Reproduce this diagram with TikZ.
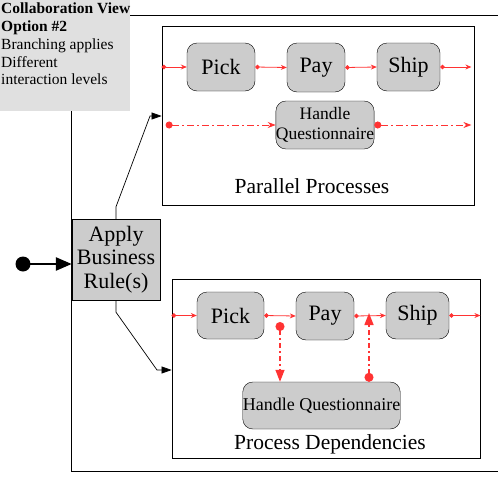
\documentclass[tikz,border=0pt]{standalone}
\usepackage{fontspec}
\setmainfont{Liberation Serif}
\usetikzlibrary{arrows.meta}
\definecolor{taskgray}{HTML}{CCCCCC}
\definecolor{notegray}{HTML}{E0E0E0}
\definecolor{flowred}{HTML}{FF3333}
\tikzset{
  task/.style={draw,fill=taskgray,rounded corners=10pt,inner sep=0pt,
    font=\fontsize{22}{24}\selectfont},
  rulebox/.style={draw,fill=taskgray,minimum width=88pt,minimum height=81pt,
    align=center,inner sep=0pt,font=\fontsize{22}{23.5}\selectfont},
  lane/.style={draw,line width=0.8pt,inner sep=0pt},
  lanetitle/.style={font=\fontsize{21.5}{23}\selectfont},
  flow/.style={flowred,line width=0.8pt,
    {Circle[length=4.5pt]}-{Stealth[length=6pt,width=5pt]}},
  sync/.style={flowred,line width=0.8pt,dash pattern=on 7pt off 3pt on 2pt off 3pt,
    {Circle[length=7pt]}-{Stealth[length=8pt,width=6pt]}},
  dep/.style={flowred,line width=1.4pt,dash pattern=on 5pt off 3pt on 2pt off 3pt,
    {Circle[length=9pt]}-{Triangle[length=12pt,width=9pt]}},
  branch/.style={line width=0.7pt,-{Triangle[length=10pt,width=7pt]}},
  entry/.style={line width=2.5pt,-{Triangle[length=16pt,width=13pt]}}
}
\begin{document}
\begin{tikzpicture}[x=1pt,y=-1pt]
  \useasboundingbox (0,0) rectangle (498,498);
  % outer frame
  \draw[line width=0.8pt] (71,20) -- (71,471) -- (498,471);
  \draw[line width=0.8pt] (100,15) -- (498,15);

  % note
  \node[fill=notegray,minimum width=130pt,minimum height=111pt,
    anchor=north west,inner sep=0pt] (memo) at (0,0) {};
  \node[anchor=north west,align=left,inner xsep=1pt,inner ysep=3pt,
    font=\fontsize{15.5}{17.7}\selectfont] (memotext) at (memo.north west)
    {\textbf{Collaboration View}\\\textbf{Option \#2}\\Branching applies\\
     Different\\interaction levels};

  % lanes
  \node[lane,minimum width=312pt,minimum height=179pt] (par) at (318,115.5) {};
  \node[lanetitle] (partitle) at (312,186) {Parallel Processes};
  \node[lane,minimum width=308pt,minimum height=179pt] (proc) at (326,368.5) {};
  \node[lanetitle] (proctitle) at (330,444) {Process Dependencies};

  % parallel tasks
  \node[task,minimum width=68pt,minimum height=48pt] (pickA) at (221,67) {Pick};
  \node[task,minimum width=58pt,minimum height=49pt] (payA) at (316,67.5) {Pay};
  \node[task,minimum width=63pt,minimum height=48pt] (shipA) at (408.5,67) {Ship};
  \node[task,minimum width=94pt,minimum height=48pt,align=center,
    font=\fontsize{17.5}{20}\selectfont] (handA) at (325,125) {Handle\\Questionnaire};

  % dependent tasks
  \node[task,minimum width=67pt,minimum height=47pt] (pickB) at (230.5,315.5) {Pick};
  \node[task,minimum width=58pt,minimum height=48pt] (payB) at (325,316) {Pay};
  \node[task,minimum width=63pt,minimum height=47pt] (shipB) at (417.5,315.5) {Ship};
  \node[task,minimum width=157pt,minimum height=47pt,
    font=\fontsize{18}{20}\selectfont] (handB) at (321.5,405.5) {Handle Questionnaire};

  % business rule
  \node[rulebox] (rule) at (116,259.5) {Apply\\Business\\Rule(s)};
  \fill (23,264) circle (7.5pt) coordinate (init);
  \draw[entry] (init) -- (init -| rule.west);

  \coordinate (bendA) at (150,116);
  \coordinate (bendB) at (157,370);
  \draw[branch] (rule.north) -- ++(0,-12) -- (bendA) -- (bendA -| par.west);
  \draw[branch] (rule.south) -- ++(0,12) -- (bendB) -- (bendB -| proc.west);

  % parallel flows
  \draw[flow] (par.west |- pickA.west) -- (pickA.west);
  \draw[flow] (pickA.east) -- (payA.west);
  \draw[flow] (payA.east) -- (shipA.west);
  \draw[flow] (shipA.east) -- ([xshift=-3pt]par.east |- shipA.east);
  \draw[sync] ([xshift=4pt]par.west |- handA.west) -- (handA.west);
  \draw[sync] (handA.east) -- ([xshift=-3pt]par.east |- handA.east);

  % dependent flows
  \draw[flow] (proc.west |- pickB.west) -- (pickB.west);
  \draw[flow] (pickB.east) -- (payB.west);
  \draw[flow] (payB.east) -- (shipB.west);
  \draw[flow] (shipB.east) -- (proc.east |- shipB.east);
  \coordinate (forkB) at (280,322);
  \coordinate (joinB) at (369,313);
  \draw[dep] (forkB) -- (forkB |- handB.north);
  \draw[dep] (joinB |- handB.north) -- (joinB);
\end{tikzpicture}
\end{document}
